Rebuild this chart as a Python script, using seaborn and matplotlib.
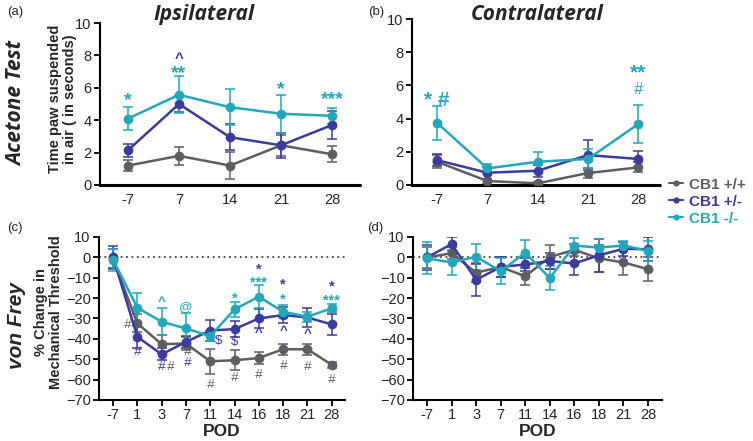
"""
CB1 genotype: acetone test + von Frey, ipsi/contralateral
"""

import numpy as np
import pandas as pd
import matplotlib
matplotlib.use("Agg")
import matplotlib.pyplot as plt
from matplotlib.lines import Line2D
import seaborn as sns

GROUPS = ["CB1 +/+", "CB1 +/-", "CB1 -/-"]
PALETTE = {"CB1 +/+": "#5c5e62", "CB1 +/-": "#3b3b9c", "CB1 -/-": "#22a8ba"}

ACE_DAYS = ["-7", "7", "14", "21", "28"]
VF_DAYS = ["-7", "1", "3", "7", "11", "14", "16", "18", "21", "28"]

# (a) acetone ipsilateral, seconds
ACE_IPSI_WT = [1.2, 1.8, 1.2, 2.45, 1.9]
ACE_IPSI_WT_SEM = [0.35, 0.55, 0.85, 0.65, 0.5]
ACE_IPSI_HET = [2.15, 5.0, 2.95, 2.45, 3.7]
ACE_IPSI_HET_SEM = [0.4, 0.5, 0.82, 0.78, 0.85]
ACE_IPSI_KO = [4.1, 5.57, 4.8, 4.4, 4.27]
ACE_IPSI_KO_SEM = [0.73, 1.15, 1.1, 1.17, 0.5]

# (b) acetone contralateral
ACE_CONTRA_WT = [1.4, 0.24, 0.1, 0.72, 1.06]
ACE_CONTRA_WT_SEM = [0.4, 0.15, 0.1, 0.3, 0.3]
ACE_CONTRA_HET = [1.5, 0.74, 0.86, 1.8, 1.57]
ACE_CONTRA_HET_SEM = [0.35, 0.35, 0.35, 0.9, 0.5]
ACE_CONTRA_KO = [3.75, 1.0, 1.4, 1.57, 3.67]
ACE_CONTRA_KO_SEM = [1.03, 0.25, 0.6, 0.58, 1.15]

# (c) von Frey ipsilateral, % change
VF_IPSI_WT = [-0.8, -32.4, -42.6, -42.3, -51.0, -50.5, -49.4, -45.1, -45.1, -52.7]
VF_IPSI_WT_SEM = [5.0, 4.4, 4.5, 3.0, 6.2, 5.0, 3.0, 2.8, 2.8, 1.5]
VF_IPSI_HET = [0.0, -39.0, -47.6, -41.5, -35.9, -35.2, -30.0, -28.3, -29.5, -32.9]
VF_IPSI_HET_SEM = [5.4, 5.4, 3.0, 3.0, 5.0, 4.0, 4.5, 4.0, 4.7, 5.3]
VF_IPSI_KO = [-1.2, -24.7, -31.6, -34.9, -38.7, -25.5, -19.3, -26.7, -29.1, -25.0]
VF_IPSI_KO_SEM = [5.5, 7.4, 6.6, 7.4, 2.5, 3.8, 5.5, 3.3, 2.5, 2.0]

# (d) von Frey contralateral
VF_CONTRA_WT = [0.0, 2.0, -7.5, -4.7, -9.3, 0.2, 3.7, -0.5, -2.5, -5.8]
VF_CONTRA_WT_SEM = [5.0, 3.0, 4.5, 5.0, 4.2, 6.0, 3.0, 6.5, 6.0, 6.0]
VF_CONTRA_HET = [0.0, 6.5, -11.0, -4.7, -3.5, -1.8, -3.0, 1.0, 4.2, 4.0]
VF_CONTRA_HET_SEM = [6.0, 3.5, 7.8, 4.7, 3.0, 4.0, 5.5, 8.0, 3.3, 6.0]
VF_CONTRA_KO = [-0.5, -2.5, 0.3, -6.8, 2.3, -10.2, 5.8, 4.8, 5.8, 3.2]
VF_CONTRA_KO_SEM = [7.8, 6.0, 6.3, 6.5, 6.3, 5.8, 3.7, 4.4, 2.4, 5.0]

# significance marks: (day index, y, text, group)
SIG_A = [(0, 5.4, "*", "CB1 -/-"), (1, 7.05, "**", "CB1 -/-"), (1, 7.8, "^", "CB1 +/-"),
         (3, 6.1, "*", "CB1 -/-"), (4, 5.45, "***", "CB1 -/-")]
SIG_B = [(0, 5.3, "* #", "CB1 -/-"), (4, 6.95, "**", "CB1 -/-"), (4, 5.75, "#", "CB1 -/-")]
SIG_C = [(0.6, -33, "#", "CB1 +/+"), (1, -46.4, "#", "CB1 +/-"), (2, -22, "^", "CB1 -/-"),
         (2, -53.7, "#", "CB1 +/-"), (2.35, -53.7, "#", "CB1 +/+"), (3, -24.3, "@", "CB1 -/-"),
         (3.05, -46.4, "#", "CB1 +/+"), (3.05, -52, "#", "CB1 +/-"), (4.36, -41, "$", "CB1 +/-"),
         (4, -62.4, "#", "CB1 +/+"), (5, -19, "*", "CB1 -/-"), (5, -41.5, "$", "CB1 +/-"),
         (5, -59.4, "#", "CB1 +/+"), (6, -4.8, "*", "CB1 +/-"), (6, -11.3, "***", "CB1 -/-"),
         (6, -37, "^", "CB1 +/-"), (6, -57.8, "#", "CB1 +/+"), (7, -12.4, "*", "CB1 +/-"),
         (7, -19.4, "*", "CB1 -/-"), (7, -36.2, "^", "CB1 +/-"), (7, -53.2, "#", "CB1 +/+"),
         (8, -37.4, "^", "CB1 +/-"), (8, -53.7, "#", "CB1 +/+"), (9, -13.3, "*", "CB1 +/-"),
         (9, -20.3, "***", "CB1 -/-"), (9, -60.2, "#", "CB1 +/+")]

sns.set_theme(style="white")
plt.rcParams["font.family"] = ["Liberation Sans", "DejaVu Sans"]


def to_long(days, means, sems):
    rows = []
    for g, m, s in zip(GROUPS, means, sems):
        for i, (d, v, e) in enumerate(zip(days, m, s)):
            rows.append({"pos": i, "day": d, "group": g, "value": v, "err": e})
    return pd.DataFrame(rows)


def draw_panel(ax, days, means, sems):
    df = to_long(days, means, sems)
    for g in GROUPS:
        sub = df[df["group"] == g]
        ax.errorbar(sub["pos"], sub["value"], yerr=sub["err"], fmt="none",
                    ecolor=PALETTE[g], elinewidth=1.3, capsize=3.5, capthick=1.3,
                    alpha=0.85, zorder=2)
    sns.lineplot(data=df, x="pos", y="value", hue="group", hue_order=GROUPS,
                 palette=PALETTE, marker="o", markersize=7, markeredgewidth=0,
                 linewidth=1.8, errorbar=None, legend=False, ax=ax, zorder=3)
    ax.set_xticks(range(len(days)))
    ax.set_xticklabels(days)
    ax.set_xlabel("")
    ax.set_ylabel("")
    sns.despine(ax=ax)
    for sp in ["left", "bottom"]:
        ax.spines[sp].set_linewidth(1.5)
        ax.spines[sp].set_color("black")
    ax.tick_params(axis="both", length=4, width=1.3, color="black",
                   labelsize=10.5, bottom=True, left=True, pad=2)


def add_sig(ax, marks, size_star=14, size_other=10):
    for x, y, t, g in marks:
        star = "*" in t
        fs = size_star if star else size_other
        # the asterisk glyph sits high in its box, pull it down a little
        dy = -0.15 * fs if t.startswith("*") else 0
        ax.annotate(t, (x, y), xytext=(0, dy), textcoords="offset points",
                    color=PALETTE[g], ha="center", va="center", fontsize=fs,
                    fontweight="bold" if (star or t == "^") else "normal",
                    style="italic" if t == "#" else "normal")


fig = plt.figure(figsize=(7.53, 4.41), dpi=100)
ax_a = fig.add_axes([0.1328, 0.5805, 0.3453, 0.3673])
ax_b = fig.add_axes([0.5470, 0.5805, 0.3320, 0.3764])
ax_c = fig.add_axes([0.1315, 0.0930, 0.3267, 0.3696])
ax_d = fig.add_axes([0.5485, 0.0930, 0.3307, 0.3696])

draw_panel(ax_a, ACE_DAYS, [ACE_IPSI_WT, ACE_IPSI_HET, ACE_IPSI_KO],
           [ACE_IPSI_WT_SEM, ACE_IPSI_HET_SEM, ACE_IPSI_KO_SEM])
draw_panel(ax_b, ACE_DAYS, [ACE_CONTRA_WT, ACE_CONTRA_HET, ACE_CONTRA_KO],
           [ACE_CONTRA_WT_SEM, ACE_CONTRA_HET_SEM, ACE_CONTRA_KO_SEM])
draw_panel(ax_c, VF_DAYS, [VF_IPSI_WT, VF_IPSI_HET, VF_IPSI_KO],
           [VF_IPSI_WT_SEM, VF_IPSI_HET_SEM, VF_IPSI_KO_SEM])
draw_panel(ax_d, VF_DAYS, [VF_CONTRA_WT, VF_CONTRA_HET, VF_CONTRA_KO],
           [VF_CONTRA_WT_SEM, VF_CONTRA_HET_SEM, VF_CONTRA_KO_SEM])

for ax, xl in [(ax_a, (-0.55, 4.55)), (ax_b, (-0.5, 4.47))]:
    ax.set_xlim(*xl)
    ax.set_ylim(0, 10)
    ax.set_yticks([0, 2, 4, 6, 8, 10])
    ax.spines["bottom"].set_linestyle((0, (1, 1)))
    ax.spines["bottom"].set_linewidth(2.2)
    ax.tick_params(axis="x", length=0, pad=6)

for ax, xl in [(ax_c, (-0.58, 9.55)), (ax_d, (-0.57, 9.57))]:
    ax.set_xlim(*xl)
    ax.set_ylim(-70, 10)
    ax.set_yticks(np.arange(-70, 11, 10))
    ax.axhline(0, color="#444444", linestyle=(0, (1, 2)), linewidth=1.3, zorder=1)
    ax.set_xlabel("POD", fontsize=12.5, fontweight="bold", labelpad=1)

add_sig(ax_a, SIG_A, size_star=14, size_other=11)
add_sig(ax_b, SIG_B, size_star=15, size_other=11.5)
add_sig(ax_c, SIG_C, size_star=10.5, size_other=9.5)

# titles / row labels
fig.text(0.271, 0.966, "Ipsilateral", fontsize=15, fontweight="bold", style="italic",
         family="Open Sans", ha="center", va="center")
fig.text(0.713, 0.966, "Contralateral", fontsize=15, fontweight="bold", style="italic",
         family="Open Sans", ha="center", va="center")
fig.text(0.022, 0.765, "Acetone Test", fontsize=15, fontweight="bold", style="italic",
         family="Open Sans", rotation=90, ha="center", va="center")
fig.text(0.022, 0.262, "von Frey", fontsize=15, fontweight="bold", style="italic",
         rotation=90, ha="center", va="center")
fig.text(0.083, 0.775, "Time paw suspended\nin air ( in seconds)", fontsize=10.5,
         fontweight="bold", rotation=90, ha="center", va="center", linespacing=1.1)
fig.text(0.064, 0.293, "% Change in\nMechanical Threshold", fontsize=10.5,
         fontweight="bold", rotation=90, ha="center", va="center", linespacing=1.1)

for x, y, t in [(0.020, 0.972, "(a)"), (0.499, 0.972, "(b)"),
                (0.020, 0.483, "(c)"), (0.499, 0.483, "(d)")]:
    fig.text(x, y, t, fontsize=9.5, ha="center", va="center")

handles = [Line2D([], [], color=PALETTE[g], marker="o", markersize=4.5,
                  markeredgewidth=0, linewidth=1.5) for g in GROUPS]
leg = fig.legend(handles, GROUPS, loc="upper left", bbox_to_anchor=(0.889, 0.597),
                 frameon=False, handlelength=0.9, handletextpad=0.4,
                 borderaxespad=0, borderpad=0,
                 labelspacing=0.2, prop={"weight": "bold", "size": 11})
for txt, g in zip(leg.get_texts(), GROUPS):
    txt.set_color(PALETTE[g])

plt.savefig("out.png", dpi=100)
plt.close()
